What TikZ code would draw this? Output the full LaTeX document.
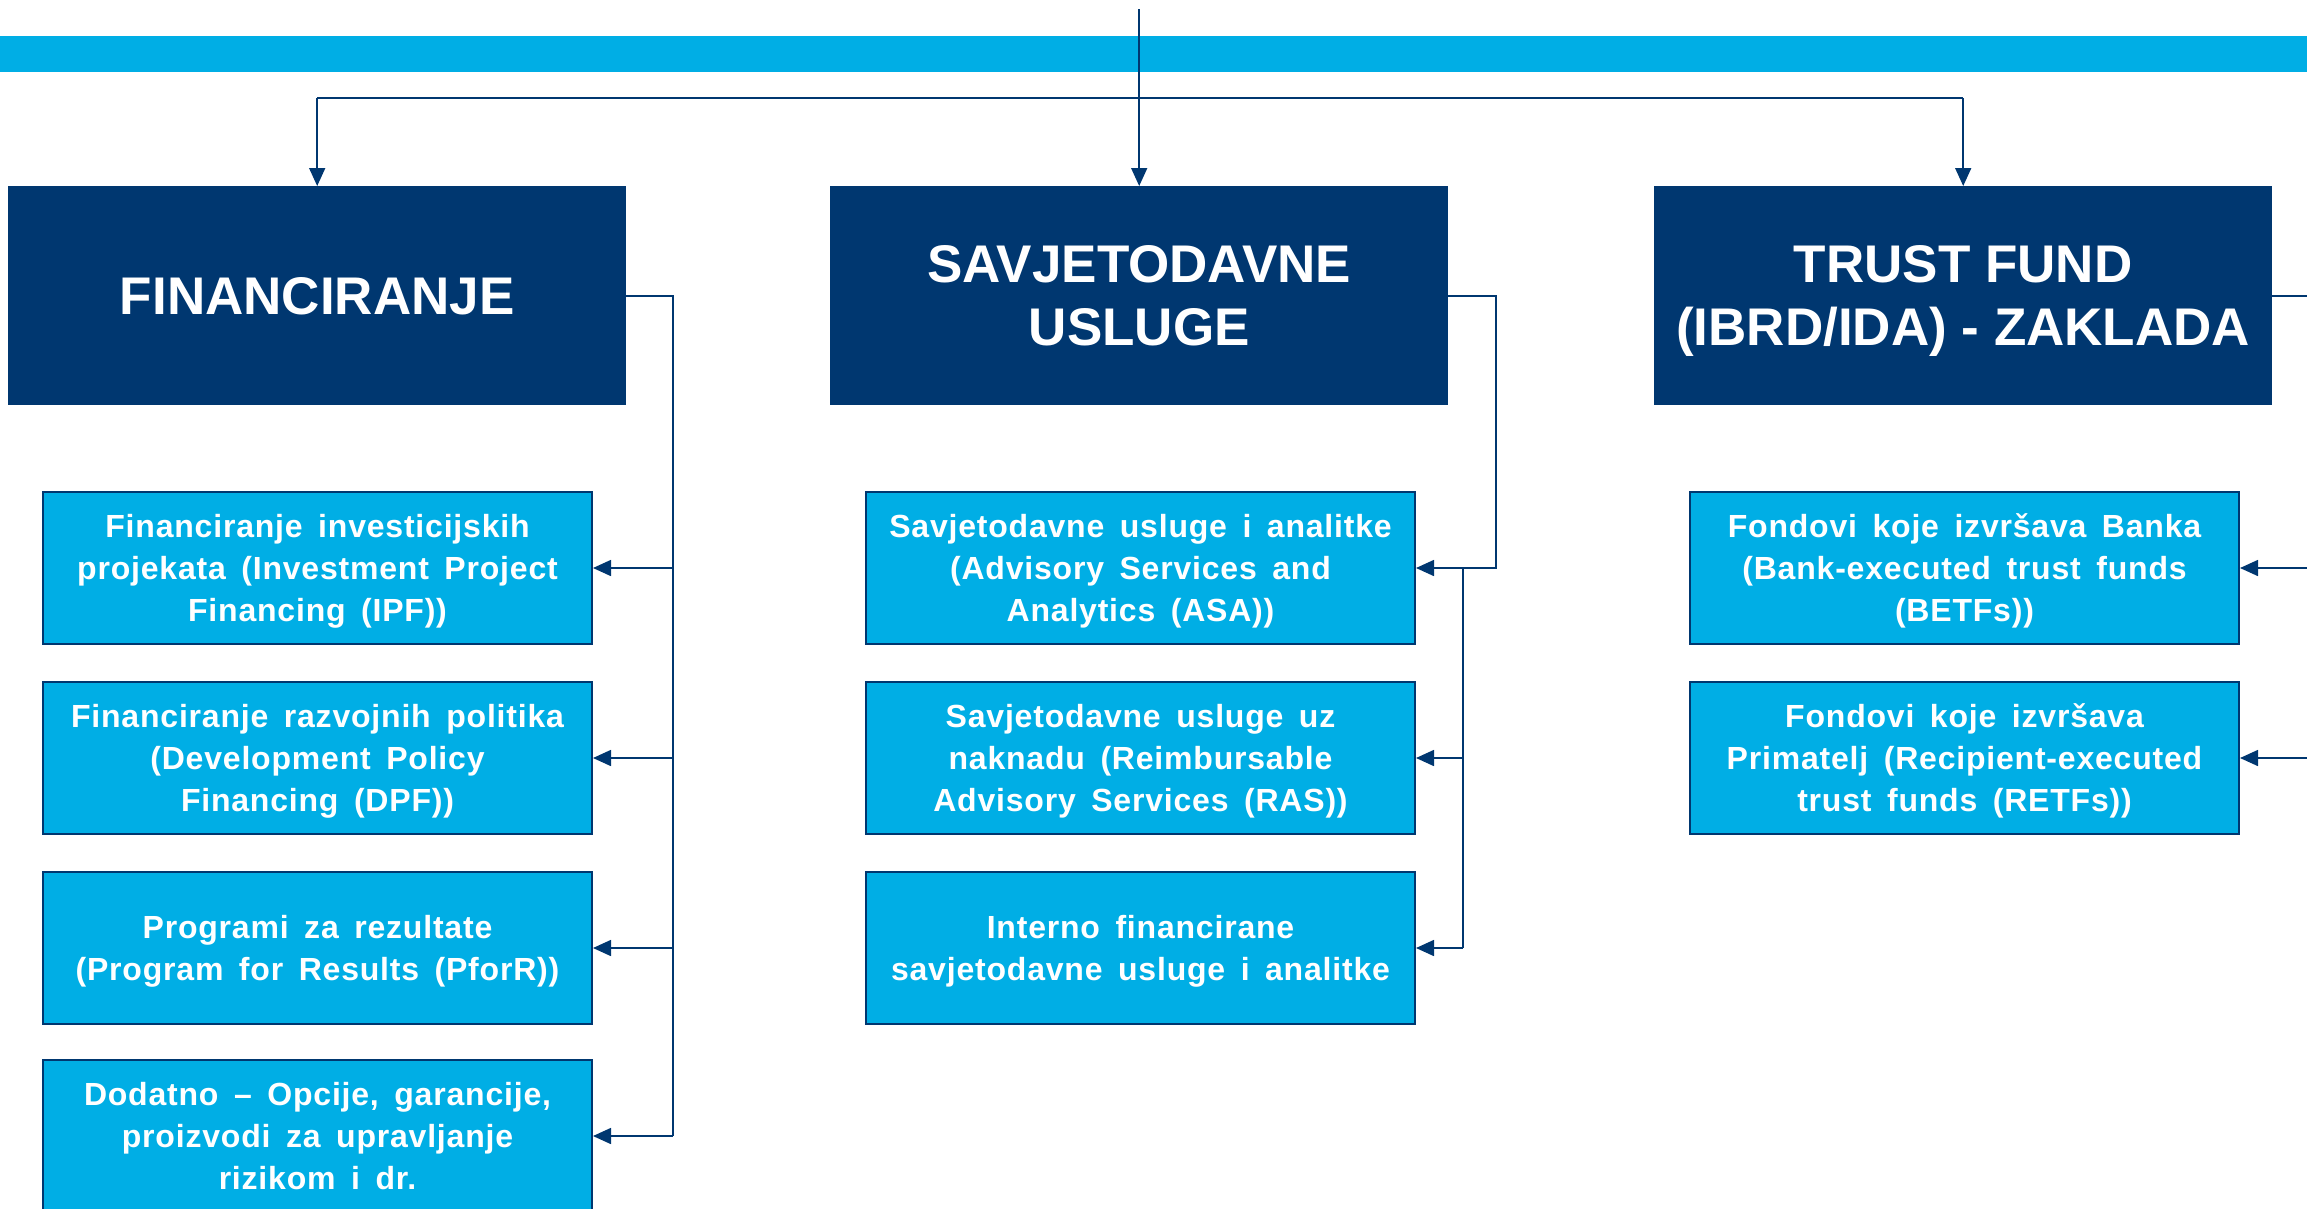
\documentclass[tikz,border=0pt]{standalone}
\usepackage{fontspec}
\setmainfont{Liberation Sans}
\newfontfamily\boxfont{Liberation Sans}[LetterSpace=2.5,WordSpace=1.6]
\usetikzlibrary{arrows.meta}
\definecolor{navy}{RGB}{0,55,112}
\definecolor{sky}{RGB}{0,174,229}
\begin{document}
\begin{tikzpicture}[x=1pt,y=-1pt,
 head/.style={draw=none, fill=navy, text=white, font={\fontsize{53}{63}\selectfont\bfseries}, align=center, minimum width=618pt, minimum height=219pt, inner sep=0pt, text depth=0pt, anchor=north west},
 item/.style={draw=navy, line width=2pt, fill=sky, text=white, font={\boxfont\fontsize{32}{42}\selectfont\bfseries}, align=center, minimum width=549pt, minimum height=152pt, inner sep=0pt, text depth=0pt, anchor=north west},
 conn/.style={draw=navy, line width=1.6pt},
 arr/.style={conn, -{Triangle[length=18pt,width=16pt]}},
]
\useasboundingbox (0,0) rectangle (2307,1208);
% top band
\fill[sky] (0,36) rectangle (2307,72);
% headers
\node[head] (fin) at (8,186) {FINANCIRANJE};
\node[head] (sav) at (830,186) {SAVJETODAVNE\\USLUGE};
\node[head] (tf) at (1654,186) {TRUST FUND\\(IBRD/IDA) - ZAKLADA};
% column 1
\node[item] (f1) at (42,491) {Financiranje investicijskih\\projekata (Investment Project\\Financing (IPF))};
\node[item] (f2) at (42,681) {Financiranje razvojnih politika\\(Development Policy\\Financing (DPF))};
\node[item] (f3) at (42,871) {Programi za rezultate\\(Program for Results (PforR))};
\node[item] (f4) at (42,1059) {Dodatno – Opcije, garancije,\\proizvodi za upravljanje\\rizikom i dr.};
% column 2
\node[item] (s1) at (865,491) {Savjetodavne usluge i analitke\\(Advisory Services and\\Analytics (ASA))};
\node[item] (s2) at (865,681) {Savjetodavne usluge uz\\naknadu (Reimbursable\\Advisory Services (RAS))};
\node[item] (s3) at (865,871) {Interno financirane\\savjetodavne usluge i analitke};
% column 3
\node[item] (t1) at (1689,491) {Fondovi koje izvršava Banka\\(Bank-executed trust funds\\(BETFs))};
\node[item] (t2) at (1689,681) {Fondovi koje izvršava\\Primatelj (Recipient-executed\\trust funds (RETFs))};
% top connectors
\path (sav.north) ++(0,-177) coordinate (top);
\path (sav.north) ++(0,-88) coordinate (hub);
\draw[arr] (top) -- (sav.north);
\draw[conn, line width=2.6pt] (fin.north |- hub) -- (tf.north |- hub);
\draw[arr] (fin.north |- hub) -- (fin.north);
\draw[arr] (tf.north |- hub) -- (tf.north);
% column 1 connectors
\coordinate (v1) at (673,0);
\draw[conn] (fin.east) -- (fin.east -| v1) -- (f4.east -| v1);
\foreach \i in {1,2,3,4} { \draw[arr] (f\i.east -| v1) -- (f\i.east); }
% column 2 connectors
\coordinate (v2) at (1496,0);
\coordinate (v2b) at (1463,0);
\draw[arr] (sav.east) -- (sav.east -| v2) -- (s1.east -| v2) -- (s1.east);
\draw[conn] (s1.east -| v2b) -- (s3.east -| v2b);
\draw[arr] (s2.east -| v2b) -- (s2.east);
\draw[arr] (s3.east -| v2b) -- (s3.east);
% column 3 connectors
\coordinate (v3) at (2307,0);
\draw[conn] (tf.east) -- (tf.east -| v3);
\draw[arr] (t1.east -| v3) -- (t1.east);
\draw[arr] (t2.east -| v3) -- (t2.east);
\end{tikzpicture}
\end{document}
